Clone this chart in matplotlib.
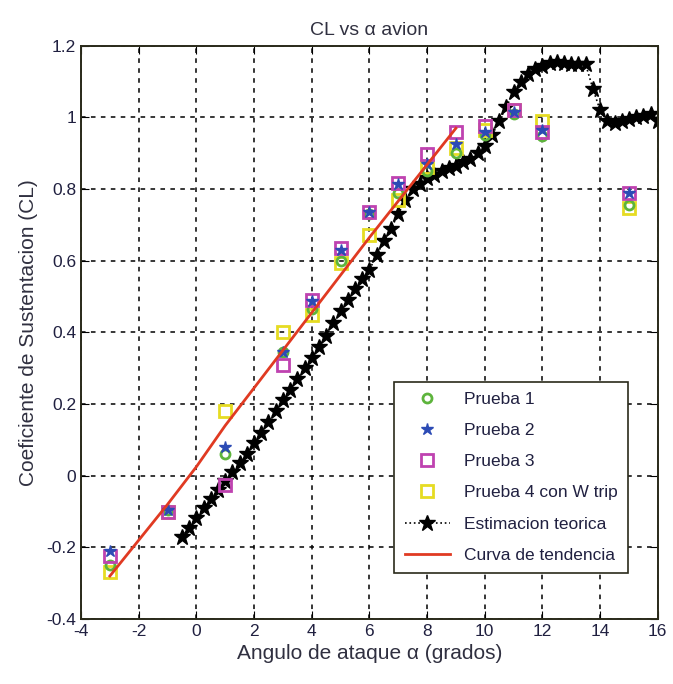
import matplotlib
matplotlib.use("Agg")
import matplotlib.pyplot as plt

plt.rcParams['font.family'] = ['Liberation Sans', 'DejaVu Sans']
plt.rcParams['axes.unicode_minus'] = False

# Ensayos en tunel (angulo de ataque en grados)
alpha_exp = [-3, -1, 1, 3, 4, 5, 6, 7, 8, 9, 10, 11, 12, 15]
cl_prueba1 = [-0.25, -0.095, 0.06, 0.345, 0.465, 0.60, 0.73, 0.79, 0.85, 0.90, 0.95, 1.01, 0.947, 0.757]
cl_prueba2 = [-0.21, -0.095, 0.08, 0.345, 0.487, 0.63, 0.735, 0.815, 0.87, 0.925, 0.96, 1.015, 0.965, 0.79]
cl_prueba3 = [-0.225, -0.10, -0.025, 0.31, 0.49, 0.637, 0.735, 0.818, 0.897, 0.96, 0.975, 1.02, 0.96, 0.79]
cl_prueba4 = [-0.27, -0.10, 0.18, 0.40, 0.45, 0.595, 0.673, 0.77, 0.863, 0.915, 0.965, 1.02, 0.99, 0.748]

# Estimacion teorica
alpha_teo = [-0.5, -0.25, 0, 0.25, 0.5, 0.75, 1.0, 1.25, 1.5, 1.75,
             2.0, 2.25, 2.5, 2.75, 3.0, 3.25, 3.5, 3.75, 4.0, 4.25,
             4.5, 4.75, 5.0, 5.25, 5.5, 5.75, 6.0, 6.25, 6.5, 6.75,
             7.0, 7.25, 7.5, 7.75, 8.0, 8.25, 8.5, 8.75, 9.0, 9.25,
             9.5, 9.75, 10.0, 10.25, 10.5, 10.75, 11.0, 11.25, 11.5, 11.75,
             12.0, 12.25, 12.5, 12.75, 13.0, 13.25, 13.5, 13.75, 14.0, 14.25,
             14.5, 14.75, 15.0, 15.25, 15.5, 15.75, 16.0]
cl_teo = [-0.17, -0.145, -0.117, -0.09, -0.065, -0.04, -0.015, 0.01, 0.035, 0.06,
          0.09, 0.12, 0.15, 0.18, 0.21, 0.24, 0.27, 0.30, 0.33, 0.36,
          0.39, 0.425, 0.46, 0.49, 0.52, 0.548, 0.575, 0.615, 0.655, 0.69,
          0.73, 0.77, 0.80, 0.815, 0.83, 0.84, 0.85, 0.86, 0.865, 0.875,
          0.885, 0.90, 0.92, 0.95, 0.99, 1.03, 1.07, 1.10, 1.12, 1.135,
          1.145, 1.152, 1.155, 1.153, 1.15, 1.15, 1.148, 1.08, 1.02, 0.99,
          0.985, 0.99, 0.995, 1.0, 1.005, 1.01, 0.99]

# Curva de tendencia
alpha_tend = [-3, -1, 0, 1, 3, 6, 9]
cl_tend = [-0.28, -0.08, 0.025, 0.14, 0.35, 0.665, 0.97]

xticks = list(range(-4, 17, 2))
yticks = [-0.4, -0.2, 0, 0.2, 0.4, 0.6, 0.8, 1, 1.2]
ytick_labels = ['-0.4', '-0.2', '0', '0.2', '0.4', '0.6', '0.8', '1', '1.2']

fig = plt.figure(figsize=(6.73, 6.84), dpi=100)
ax = fig.add_axes([0.1204, 0.095, 0.857, 0.838])

ax.plot(alpha_exp, cl_prueba1, 'o', mfc='none', mec='#5db43c', mew=2, ms=6.5, ls='none', label='Prueba 1', zorder=4)
ax.plot(alpha_exp, cl_prueba2, '*', color='#2c4bb5', ms=9, ls='none', label='Prueba 2', zorder=5)
ax.plot(alpha_exp, cl_prueba3, 's', mfc='none', mec='#bf42b0', mew=2, ms=8.5, ls='none', label='Prueba 3', zorder=4)
ax.plot(alpha_exp, cl_prueba4, 's', mfc='none', mec='#e6dc22', mew=2, ms=9, ls='none', label='Prueba 4 con W trip', zorder=3)
ax.plot(alpha_teo, cl_teo, color='black', ls=':', lw=1.2, marker='*', ms=12,
        mfc='black', mec='black', label='Estimacion teorica', zorder=2)
ax.plot(alpha_tend, cl_tend, color='#e03a22', lw=2, label='Curva de tendencia', zorder=6)

ax.set_xlim(-4, 16)
ax.set_ylim(-0.4, 1.2)
ax.set_xticks(xticks)
ax.set_yticks(yticks)
ax.set_yticklabels(ytick_labels)
ax.tick_params(direction='in', length=6, top=True, right=True, labelsize=12.5, colors='black')
ax.tick_params(axis='both', labelcolor='#202040')
ax.grid(True, color='black', ls=(0, (3, 3.5)), lw=1.1)
for s in ax.spines.values():
    s.set_linewidth(1.4)
    s.set_color('#2a2a1a')

ax.set_title('CL vs \u03b1 avion', fontsize=14, color='#303040', pad=8)
ax.set_xlabel('Angulo de ataque \u03b1 (grados)', fontsize=15, color='#303040', labelpad=4)
ax.set_ylabel('Coeficiente de Sustentacion (CL)', fontsize=15, color='#303040', labelpad=6)

leg = ax.legend(loc='lower right', bbox_to_anchor=(0.948, 0.08), borderaxespad=0,
                fontsize=12.5, frameon=True, fancybox=False, edgecolor='#2a2a1a',
                framealpha=1, handlelength=2.6, borderpad=0.6, labelspacing=0.92)
leg.get_frame().set_linewidth(1.2)
for t in leg.get_texts():
    t.set_color('#202040')

fig.savefig('out.png', dpi=100)
